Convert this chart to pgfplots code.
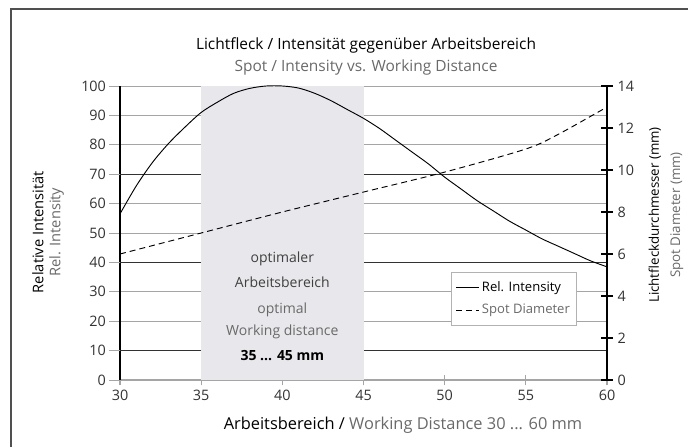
\documentclass[border=0pt]{standalone}
\usepackage{fontspec}
\setmainfont{Open Sans}
\usepackage{pgfplots}
\pgfplotsset{compat=1.18}
\definecolor{gtxt}{RGB}{105,105,105}
\definecolor{shade}{RGB}{232,232,236}
\definecolor{gridc}{RGB}{165,165,165}
\definecolor{framec}{RGB}{80,80,80}
\begin{document}
\begin{tikzpicture}[x=0.75pt,y=0.75pt]
\path[use as bounding box] (0,0) rectangle (688,447);
\draw[framec, line width=1.2pt] (11,0) -- (11,438) -- (688,438);
\begin{axis}[
  at={(90pt,50.25pt)}, anchor=south west, scale only axis,
  width=365.25pt, height=220.5pt,
  xmin=30, xmax=60, ymin=0, ymax=100,
  axis x line*=bottom, axis y line*=left,
  xtick={30,35,...,60}, ytick={0,10,...,100},
  ytick align=outside, xtick align=center,
  major tick length=8pt,
  x axis line style={gridc, line width=0.8pt},
  y axis line style={black, line width=0.8pt},
  xtick style={gridc, line width=0.8pt},
  ytick style={gridc, line width=0.7pt},
  ymajorgrids, grid style={gridc, line width=0.6pt},
  extra y ticks={10,40,70}, extra y tick labels={},
  extra y tick style={grid style={black!80, line width=0.7pt}},
  tick label style={font=\fontsize{10.8}{12}\selectfont, text=black!80},
  yticklabel style={xshift=1pt},
  /pgf/number format/assume math mode=true,
  clip=false,
]
\addplot[fill=shade, draw=none] coordinates {(35,0) (35,100) (45,100) (45,0)} -- cycle;
\addplot[black, line width=0.7pt, smooth] coordinates {
(30,56.5) (31,66) (32,74) (33,80.5) (34,86) (35,91) (36,94.5) (37,97.5) (38,99.2) (39,100)
(40,100) (41,99.3) (42,97.5) (43,95) (44,92) (45,89) (46,85.5) (47,81.5) (48,77.5) (49,73.5)
(50,69) (51,65) (52,61) (53,57.5) (54,54) (55,51) (56,48) (57,45.5) (58,43) (59,40.5) (60,38.5)};
\node[text=black!75, font=\fontsize{10.5}{12}\selectfont] at (axis cs:40,41.2) {optimaler};
\node[text=black!75, font=\fontsize{10.5}{12}\selectfont] at (axis cs:40,33.3) {Arbeitsbereich};
\node[text=gtxt, font=\fontsize{10.5}{12}\selectfont] at (axis cs:40,23.8) {optimal};
\node[text=gtxt, font=\fontsize{10.5}{12}\selectfont] at (axis cs:40,16.3) {Working distance};
\node[text=black, font=\fontsize{10.5}{12}\selectfont\bfseries] at (axis cs:40,8.2) {35 ... 45 mm};
\end{axis}
\begin{axis}[
  at={(90pt,50.25pt)}, anchor=south west, scale only axis,
  width=365.25pt, height=220.5pt,
  xmin=30, xmax=60, ymin=0, ymax=14,
  hide x axis, axis y line*=right,
  ytick={0,2,...,14}, ytick align=center, major tick length=9pt,
  y axis line style={black, line width=0.8pt},
  ytick style={black, line width=0.8pt},
  tick label style={font=\fontsize{10.8}{12}\selectfont, text=black!80},
  /pgf/number format/assume math mode=true,
  legend style={at={(0.938,0.367)}, anchor=north east, draw=gray!60, fill=white,
    font=\fontsize{9.8}{11}\selectfont, row sep=4pt, inner xsep=3pt, inner ysep=5pt},
  legend cell align=left,
]
\addlegendimage{black, line width=0.7pt}
\addlegendentry{Rel. Intensity}
\addplot[black, line width=0.7pt, dash pattern=on 4.5pt off 3pt, smooth] coordinates {
(30,6.0) (35,7.0) (40,8.0) (45,8.95) (50,9.9) (55,11.0) (57,11.7) (60,13.0)};
\addlegendentry{\textcolor{gtxt}{Spot Diameter}}
\end{axis}
\node[font=\fontsize{11.6}{13}\selectfont] at (366,402) {Lichtfleck / Intensität gegenüber Arbeitsbereich};
\node[font=\fontsize{11.6}{13}\selectfont, text=gtxt] at (366,380) {Spot / Intensity vs. Working Distance};
\node[font=\fontsize{12.3}{14}\selectfont] at (403,22) {Arbeitsbereich / \textcolor{gtxt}{Working Distance 30 ... 60 mm}};
\node[rotate=90, align=center, font=\fontsize{11}{12.75}\selectfont] at (48,215) {Relative Intensität\\\textcolor{gtxt}{Rel. Intensity}};
\node[rotate=90, align=center, font=\fontsize{10}{16}\selectfont] at (666,232) {Lichtfleckdurchmesser (mm)\\\textcolor{gtxt}{Spot Diameter (mm)}};
\end{tikzpicture}
\end{document}
